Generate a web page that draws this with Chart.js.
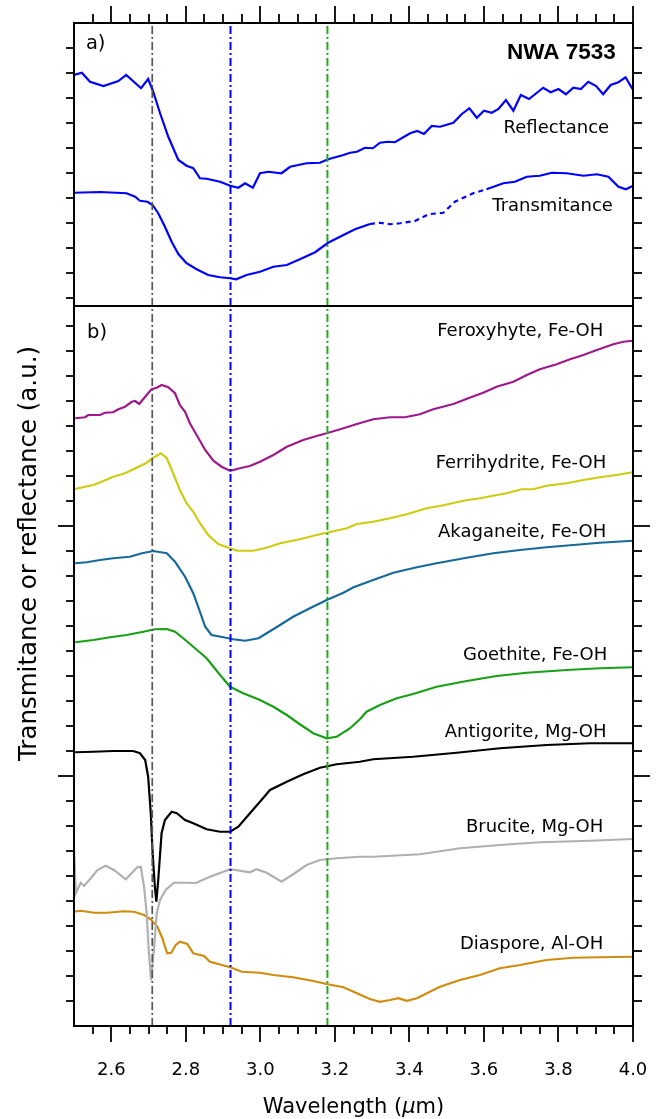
<!DOCTYPE html>
<html>
<head>
<meta charset="utf-8">
<script src="https://cdn.jsdelivr.net/npm/chart.js@4.4.0/dist/chart.umd.min.js"></script>
<style>
  html, body { margin: 0; padding: 0; background: #fff; }
  canvas { display: block; }
</style>
</head>
<body>
<canvas id="spectraChart" width="661" height="1119"></canvas>
<script>
// [wavelength (um), signal (a.u., one minor tick = 1)]
// panel a) NWA 7533
const reflectance = [
  [2.500, 38.04], [2.521, 38.13], [2.543, 37.77], [2.579, 37.60], [2.619, 37.80], [2.640, 38.04],
  [2.680, 37.51], [2.699, 37.88], [2.711, 37.44], [2.731, 36.51], [2.753, 35.57], [2.780, 34.64],
  [2.802, 34.41], [2.820, 34.31], [2.838, 33.91], [2.856, 33.89], [2.892, 33.77], [2.919, 33.61],
  [2.941, 33.53], [2.959, 33.71], [2.980, 33.53], [2.999, 34.11], [3.021, 34.17], [3.057, 34.11],
  [3.080, 34.37], [3.124, 34.51], [3.160, 34.53], [3.182, 34.67], [3.223, 34.84], [3.241, 34.93],
  [3.259, 34.97], [3.281, 35.13], [3.302, 35.11], [3.321, 35.33], [3.343, 35.37], [3.361, 35.35],
  [3.402, 35.71], [3.421, 35.80], [3.439, 35.68], [3.460, 36.00], [3.482, 35.97], [3.518, 36.13],
  [3.540, 36.47], [3.561, 36.71], [3.581, 36.33], [3.600, 36.61], [3.621, 36.53], [3.639, 36.68],
  [3.659, 37.04], [3.679, 36.61], [3.699, 37.24], [3.721, 37.08], [3.759, 37.53], [3.779, 37.35],
  [3.800, 37.48], [3.820, 37.27], [3.840, 37.53], [3.860, 37.48], [3.880, 37.77], [3.901, 37.60],
  [3.920, 37.27], [3.940, 37.64], [3.961, 37.75], [3.980, 37.95], [3.999, 37.47]
];
const transmitance = [
  [2.500, 33.33], [2.570, 33.36], [2.641, 33.31], [2.664, 33.17], [2.677, 33.01], [2.697, 32.97],
  [2.711, 32.84], [2.726, 32.51], [2.744, 31.97], [2.762, 31.37], [2.780, 30.88], [2.802, 30.51],
  [2.829, 30.27], [2.860, 30.04], [2.892, 29.95], [2.919, 29.91], [2.935, 29.87], [2.963, 30.04],
  [2.999, 30.17], [3.035, 30.37], [3.071, 30.44], [3.106, 30.67], [3.147, 30.95], [3.182, 31.33],
  [3.223, 31.64], [3.254, 31.87], [3.294, 32.08], [3.321, 32.13], [3.348, 32.07], [3.375, 32.11],
  [3.415, 32.20], [3.451, 32.47], [3.491, 32.53], [3.522, 32.97], [3.571, 33.31], [3.607, 33.47],
  [3.652, 33.71], [3.683, 33.77], [3.715, 33.97], [3.750, 34.01], [3.782, 34.13], [3.822, 34.11],
  [3.867, 34.01], [3.903, 34.07], [3.934, 33.97], [3.961, 33.57], [3.981, 33.47], [3.999, 33.60]
];
// transmitance gap drawn dashed
const dashedFrom = 3.294;
const dashedTo = 3.607;

// panel b) reference minerals
const feroxyhyte = [
  [2.503, 24.31], [2.530, 24.35], [2.538, 24.44], [2.570, 24.44], [2.583, 24.53], [2.605, 24.55],
  [2.619, 24.67], [2.637, 24.77], [2.655, 24.97], [2.664, 25.00], [2.675, 24.88], [2.691, 25.17],
  [2.708, 25.47], [2.722, 25.53], [2.735, 25.64], [2.753, 25.55], [2.771, 25.31], [2.784, 24.84],
  [2.798, 24.57], [2.811, 24.11], [2.829, 23.64], [2.852, 23.04], [2.874, 22.61], [2.896, 22.37],
  [2.919, 22.21], [2.945, 22.31], [2.972, 22.40], [2.999, 22.57], [3.035, 22.84], [3.071, 23.17],
  [3.115, 23.44], [3.151, 23.60], [3.178, 23.71], [3.223, 23.91], [3.259, 24.08], [3.303, 24.27],
  [3.348, 24.35], [3.388, 24.35], [3.428, 24.47], [3.464, 24.67], [3.518, 24.88], [3.558, 25.11],
  [3.598, 25.33], [3.634, 25.57], [3.679, 25.77], [3.715, 26.04], [3.750, 26.27], [3.795, 26.47],
  [3.831, 26.67], [3.867, 26.84], [3.903, 27.04], [3.947, 27.27], [3.974, 27.37], [3.999, 27.41]
];
const ferrihydrite = [
  [2.503, 21.48], [2.530, 21.57], [2.552, 21.64], [2.579, 21.80], [2.605, 21.97], [2.637, 22.11],
  [2.668, 22.33], [2.695, 22.53], [2.713, 22.73], [2.733, 22.91], [2.749, 22.71], [2.766, 22.11],
  [2.784, 21.44], [2.802, 20.91], [2.820, 20.57], [2.838, 20.11], [2.860, 19.64], [2.887, 19.28],
  [2.919, 19.11], [2.937, 19.01], [2.981, 19.01], [3.017, 19.13], [3.053, 19.31], [3.106, 19.47],
  [3.151, 19.64], [3.178, 19.73], [3.232, 19.91], [3.259, 20.08], [3.303, 20.17], [3.348, 20.31],
  [3.393, 20.47], [3.446, 20.71], [3.482, 20.80], [3.545, 21.01], [3.589, 21.11], [3.661, 21.31],
  [3.701, 21.47], [3.732, 21.47], [3.768, 21.61], [3.822, 21.71], [3.867, 21.84], [3.911, 21.95],
  [3.956, 22.04], [3.999, 22.15]
];
const akaganeite = [
  [2.503, 18.51], [2.534, 18.55], [2.570, 18.64], [2.605, 18.71], [2.650, 18.77], [2.682, 18.91],
  [2.713, 19.00], [2.749, 18.91], [2.771, 18.57], [2.798, 17.97], [2.820, 17.31], [2.838, 16.57],
  [2.852, 15.97], [2.869, 15.64], [2.901, 15.55], [2.927, 15.47], [2.959, 15.41], [2.995, 15.51],
  [3.017, 15.71], [3.053, 16.04], [3.088, 16.37], [3.133, 16.71], [3.178, 17.04], [3.223, 17.33],
  [3.250, 17.55], [3.303, 17.84], [3.357, 18.13], [3.420, 18.35], [3.473, 18.51], [3.554, 18.73],
  [3.625, 18.91], [3.697, 19.04], [3.768, 19.15], [3.840, 19.24], [3.911, 19.33], [3.999, 19.41]
];
const goethite = [
  [2.503, 15.35], [2.552, 15.44], [2.597, 15.55], [2.641, 15.64], [2.686, 15.77], [2.717, 15.87],
  [2.749, 15.88], [2.771, 15.77], [2.793, 15.51], [2.820, 15.17], [2.856, 14.71], [2.892, 14.04],
  [2.919, 13.57], [2.954, 13.31], [2.999, 13.04], [3.035, 12.77], [3.071, 12.44], [3.106, 12.07],
  [3.142, 11.71], [3.178, 11.51], [3.205, 11.57], [3.241, 11.91], [3.267, 12.27], [3.285, 12.57],
  [3.321, 12.84], [3.366, 13.11], [3.410, 13.28], [3.473, 13.57], [3.554, 13.80], [3.634, 14.00],
  [3.715, 14.13], [3.822, 14.24], [3.911, 14.31], [3.999, 14.35]
];
const antigorite = [
  [2.503, 10.95], [2.552, 10.97], [2.605, 11.00], [2.659, 11.00], [2.677, 10.91], [2.691, 10.64],
  [2.699, 9.97], [2.706, 8.51], [2.711, 6.91], [2.717, 5.57], [2.721, 4.97], [2.726, 5.84],
  [2.735, 7.71], [2.744, 8.24], [2.762, 8.57], [2.776, 8.51], [2.798, 8.24], [2.820, 8.11],
  [2.856, 7.87], [2.892, 7.77], [2.919, 7.77], [2.941, 7.97], [2.968, 8.44], [2.999, 8.97],
  [3.026, 9.44], [3.071, 9.77], [3.115, 10.07], [3.160, 10.33], [3.205, 10.47], [3.267, 10.57],
  [3.303, 10.67], [3.410, 10.77], [3.527, 10.93], [3.643, 11.11], [3.768, 11.24], [3.885, 11.31],
  [3.999, 11.31]
];
const brucite = [
  [2.500, 7.11], [2.505, 5.31], [2.518, 5.73], [2.527, 5.60], [2.545, 5.91], [2.563, 6.24],
  [2.585, 6.41], [2.607, 6.24], [2.639, 5.87], [2.670, 6.35], [2.679, 6.37], [2.688, 5.57],
  [2.695, 4.51], [2.701, 2.91], [2.707, 1.82], [2.715, 3.17], [2.722, 4.51], [2.731, 5.04],
  [2.746, 5.44], [2.768, 5.73], [2.795, 5.73], [2.827, 5.72], [2.865, 5.97], [2.919, 6.27],
  [2.972, 6.15], [2.990, 6.27], [3.017, 6.13], [3.057, 5.77], [3.088, 6.07], [3.124, 6.44],
  [3.160, 6.64], [3.205, 6.71], [3.267, 6.77], [3.303, 6.77], [3.428, 6.87], [3.536, 7.11],
  [3.643, 7.24], [3.750, 7.35], [3.885, 7.41], [3.999, 7.48]
];
const diaspore = [
  [2.500, 4.57], [2.518, 4.61], [2.554, 4.53], [2.589, 4.53], [2.634, 4.59], [2.661, 4.57],
  [2.688, 4.44], [2.706, 4.27], [2.724, 3.97], [2.737, 3.51], [2.750, 2.91], [2.761, 2.93],
  [2.773, 3.24], [2.784, 3.37], [2.804, 3.28], [2.820, 2.91], [2.849, 2.80], [2.865, 2.57],
  [2.919, 2.35], [2.950, 2.17], [2.999, 2.13], [3.035, 2.04], [3.088, 1.95], [3.142, 1.80],
  [3.178, 1.68], [3.223, 1.55], [3.259, 1.31], [3.294, 1.08], [3.321, 0.97], [3.348, 1.04],
  [3.370, 1.11], [3.393, 1.01], [3.420, 1.11], [3.482, 1.57], [3.536, 1.84], [3.589, 2.04],
  [3.643, 2.31], [3.697, 2.44], [3.768, 2.64], [3.840, 2.73], [3.911, 2.75], [3.999, 2.77]
];

// band positions marked by dash-dot lines
const bandCentres = [2.71, 2.92, 3.18];
const bandColours = ['#555555', '#0000ff', '#22aa22'];

// axes
const xMin = 2.5, xMax = 4.0;
const yMin = 0, yMax = 40.12;
const panelSplit = 28.8;
const xTickLabels = [2.6, 2.8, 3.0, 3.2, 3.4, 3.6, 3.8, 4.0];
const panelBTicks = [1, 2, 3, 4, 5, 6, 7, 8, 9, 10, 11, 12, 13, 14, 15, 16, 17, 18, 19, 20,
  21, 22, 23, 24, 25, 26, 27, 28];
const panelBMajor = [10, 20];
const panelATicks = [29.1, 30.1, 31.1, 32.1, 33.1, 34.1, 35.1, 36.1, 37.1, 38.1, 39.1];

// text placed in data units (right edge / baseline)
const curveLabels = [
  { text: 'Reflectance', x: 3.936, y: 35.72 },
  { text: 'Transmitance', x: 3.946, y: 32.60 },
  { text: 'Feroxyhyte, Fe-OH', x: 3.920, y: 27.60 },
  { text: 'Ferrihydrite, Fe-OH', x: 3.928, y: 22.32 },
  { text: 'Akaganeite, Fe-OH', x: 3.928, y: 19.56 },
  { text: 'Goethite, Fe-OH', x: 3.931, y: 14.64 },
  { text: 'Antigorite, Mg-OH', x: 3.929, y: 11.56 },
  { text: 'Brucite, Mg-OH', x: 3.920, y: 7.76 },
  { text: 'Diaspore, Al-OH', x: 3.920, y: 3.08 }
];

const FONT = "'DejaVu Sans', sans-serif";

function curve(points, colour, extra) {
  return Object.assign({
    data: points.map(p => ({ x: p[0], y: p[1] })),
    borderColor: colour,
    borderWidth: 2.2,
    pointRadius: 0,
    tension: 0,
    fill: false
  }, extra || {});
}

const datasets = bandCentres.map((c, i) => ({
  data: [{ x: c, y: yMin }, { x: c, y: yMax }],
  borderColor: bandColours[i],
  borderWidth: i === 0 ? 1.7 : 2,
  borderDash: [8, 3, 2, 3],
  pointRadius: 0,
  fill: false
}));

datasets.push(
  curve(reflectance, '#0000ff'),
  curve(transmitance, '#0000ff', {
    borderCapStyle: 'butt',
    segment: {
      borderDash: ctx => (ctx.p0.parsed.x >= dashedFrom && ctx.p1.parsed.x <= dashedTo) ? [5, 4] : undefined
    }
  }),
  curve(feroxyhyte, '#9e1a8c'),
  curve(ferrihydrite, '#cccc11'),
  curve(akaganeite, '#17699a'),
  curve(goethite, '#18a018'),
  curve(antigorite, '#000000'),
  curve(brucite, '#b0b0b0'),
  curve(diaspore, '#d08c0e')
);

function isMajorX(v) {
  return xTickLabels.some(t => Math.abs(t - v) < 1e-6);
}

// frame, ticks, panel split and all the text
const frameAndText = {
  id: 'frameAndText',
  afterDraw(chart) {
    const { ctx, chartArea: area, scales: { x, y } } = chart;
    const seg = (x1, y1, x2, y2) => {
      ctx.beginPath();
      ctx.moveTo(x1, y1);
      ctx.lineTo(x2, y2);
      ctx.stroke();
    };
    ctx.save();
    ctx.strokeStyle = '#000';
    ctx.lineWidth = 2;
    ctx.strokeRect(area.left, area.top, area.right - area.left, area.bottom - area.top);
    const ySplit = y.getPixelForValue(panelSplit);
    seg(area.left, ySplit, area.right, ySplit);

    // x ticks, top and bottom, every 0.05
    ctx.lineWidth = 1.8;
    for (let i = 1; i <= 30; i++) {
      const v = xMin + i * 0.05;
      const px = Math.round(x.getPixelForValue(v));
      const major = isMajorX(v);
      seg(px, area.top, px, area.top - (major ? 17 : 9));
      seg(px, area.bottom, px, area.bottom + (major ? 16 : 8));
    }
    // y ticks, left and right
    panelBTicks.concat(panelATicks).forEach(v => {
      const py = Math.round(y.getPixelForValue(v));
      const major = panelBMajor.includes(v);
      seg(area.left, py, area.left - (major ? 16 : 8), py);
      seg(area.right, py, area.right + (major ? 17 : 9), py);
    });

    ctx.fillStyle = '#000';
    // x tick labels
    ctx.font = '18px ' + FONT;
    ctx.textAlign = 'center';
    ctx.textBaseline = 'alphabetic';
    xTickLabels.forEach(v => {
      ctx.fillText(v.toFixed(1), x.getPixelForValue(v), area.bottom + 49);
    });

    // x title with italic mu
    const parts = [['Wavelength (', 'normal'], ['\u03bc', 'italic'], ['m)', 'normal']];
    let total = 0;
    parts.forEach(p => { ctx.font = p[1] + ' 21px ' + FONT; total += ctx.measureText(p[0]).width; });
    let cx = (area.left + area.right) / 2 - total / 2;
    ctx.textAlign = 'left';
    parts.forEach(p => {
      ctx.font = p[1] + ' 21px ' + FONT;
      ctx.fillText(p[0], cx, area.bottom + 87);
      cx += ctx.measureText(p[0]).width;
    });

    // y title
    ctx.save();
    ctx.translate(area.left - 44, y.getPixelForValue(18.9));
    ctx.rotate(-Math.PI / 2);
    ctx.font = '24.5px ' + FONT;
    ctx.textAlign = 'center';
    ctx.textBaseline = 'middle';
    ctx.fillText('Transmitance or reflectance (a.u.)', 0, 0);
    ctx.restore();

    // curve names
    ctx.font = '18px ' + FONT;
    ctx.textAlign = 'right';
    ctx.textBaseline = 'alphabetic';
    curveLabels.forEach(l => {
      ctx.fillText(l.text, x.getPixelForValue(l.x), y.getPixelForValue(l.y));
    });

    ctx.font = "bold 22.5px 'Liberation Sans', Arial, sans-serif";
    ctx.fillText('NWA 7533', x.getPixelForValue(3.954), y.getPixelForValue(38.68));

    ctx.font = '19.5px ' + FONT;
    ctx.textAlign = 'left';
    ctx.fillText('a)', x.getPixelForValue(2.532), y.getPixelForValue(39.08));
    ctx.fillText('b)', x.getPixelForValue(2.535), y.getPixelForValue(27.52));
    ctx.restore();
  }
};

new Chart(document.getElementById('spectraChart').getContext('2d'), {
  type: 'line',
  data: { datasets: datasets },
  options: {
    responsive: false,
    animation: false,
    layout: {
      padding: { left: 74, right: 28, top: 23, bottom: 93 }
    },
    plugins: {
      legend: { display: false },
      tooltip: { enabled: false }
    },
    scales: {
      x: { type: 'linear', min: xMin, max: xMax, display: false },
      y: { type: 'linear', min: yMin, max: yMax, display: false }
    }
  },
  plugins: [frameAndText]
});
</script>
</body>
</html>
